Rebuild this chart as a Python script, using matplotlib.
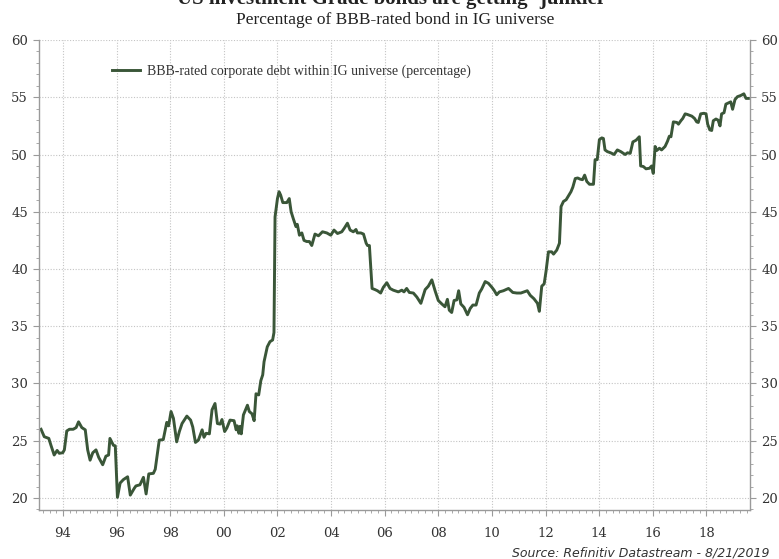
import numpy as np
import matplotlib
matplotlib.use('Agg')
import matplotlib.pyplot as plt
from matplotlib.ticker import FixedLocator, MultipleLocator

# decimal year and BBB share of IG universe (%)
years = [
    1993.18, 1993.30, 1993.47, 1993.55, 1993.67, 1993.78, 1993.86, 1993.99, 1994.05, 1994.14,
    1994.24, 1994.38, 1994.49, 1994.58, 1994.70, 1994.83, 1994.92, 1995.01, 1995.11, 1995.23,
    1995.33, 1995.48, 1995.60, 1995.70, 1995.75, 1995.88, 1995.95, 1996.03, 1996.13, 1996.25,
    1996.41, 1996.51, 1996.66, 1996.72, 1996.87, 1997.00, 1997.10, 1997.20, 1997.37, 1997.44,
    1997.59, 1997.74, 1997.87, 1997.94, 1998.03, 1998.12, 1998.24, 1998.34, 1998.44, 1998.62,
    1998.76, 1998.84, 1998.94, 1999.05, 1999.19, 1999.26, 1999.34, 1999.46, 1999.56, 1999.67,
    1999.76, 1999.86, 1999.93, 2000.03, 2000.11, 2000.23, 2000.38, 2000.46, 2000.50, 2000.56,
    2000.60, 2000.65, 2000.73, 2000.88, 2000.95, 2001.05, 2001.13, 2001.20, 2001.30, 2001.38,
    2001.45, 2001.50, 2001.62, 2001.72, 2001.82, 2001.87, 2001.91, 2002.00, 2002.06, 2002.12,
    2002.20, 2002.35, 2002.44, 2002.51, 2002.59, 2002.69, 2002.74, 2002.82, 2002.91, 2002.99,
    2003.09, 2003.19, 2003.28, 2003.40, 2003.53, 2003.68, 2003.84, 2003.99, 2004.11, 2004.24,
    2004.40, 2004.49, 2004.61, 2004.71, 2004.83, 2004.93, 2004.98, 2005.11, 2005.21, 2005.31,
    2005.36, 2005.43, 2005.53, 2005.64, 2005.73, 2005.85, 2005.95, 2006.08, 2006.20, 2006.32,
    2006.51, 2006.64, 2006.72, 2006.82, 2006.92, 2007.07, 2007.20, 2007.35, 2007.51, 2007.63,
    2007.76, 2007.88, 2008.00, 2008.13, 2008.25, 2008.34, 2008.41, 2008.50, 2008.59, 2008.69,
    2008.76, 2008.84, 2008.96, 2009.09, 2009.19, 2009.29, 2009.41, 2009.53, 2009.62, 2009.75,
    2009.87, 2010.00, 2010.08, 2010.18, 2010.28, 2010.43, 2010.62, 2010.78, 2010.93, 2011.08,
    2011.20, 2011.32, 2011.43, 2011.57, 2011.70, 2011.77, 2011.86, 2011.95, 2012.02, 2012.11,
    2012.23, 2012.30, 2012.42, 2012.52, 2012.58, 2012.67, 2012.77, 2012.86, 2012.95, 2013.02,
    2013.11, 2013.20, 2013.29, 2013.38, 2013.46, 2013.54, 2013.64, 2013.79, 2013.85, 2013.93,
    2014.01, 2014.10, 2014.16, 2014.22, 2014.31, 2014.43, 2014.56, 2014.68, 2014.81, 2014.97,
    2015.06, 2015.16, 2015.26, 2015.38, 2015.50, 2015.55, 2015.65, 2015.75, 2015.88, 2015.96,
    2016.02, 2016.09, 2016.15, 2016.25, 2016.33, 2016.46, 2016.55, 2016.62, 2016.68, 2016.77,
    2016.90, 2016.96, 2017.05, 2017.12, 2017.21, 2017.29, 2017.46, 2017.56, 2017.64, 2017.70,
    2017.79, 2017.91, 2017.99, 2018.05, 2018.13, 2018.20, 2018.26, 2018.36, 2018.44, 2018.51,
    2018.57, 2018.66, 2018.73, 2018.82, 2018.91, 2018.98, 2019.07, 2019.16, 2019.28, 2019.40,
    2019.48, 2019.57,
]
bbb_pct = [
    26.0, 25.35, 25.2, 24.6, 23.75, 24.15, 23.9, 23.95, 24.2, 25.85,
    26.0, 26.0, 26.15, 26.65, 26.15, 25.95, 24.2, 23.3, 23.95, 24.2,
    23.55, 22.9, 23.65, 23.75, 25.2, 24.6, 24.55, 20.05, 21.3, 21.6,
    21.85, 20.25, 20.85, 21.05, 21.15, 21.8, 20.35, 22.1, 22.15, 22.5,
    25.05, 25.1, 26.6, 26.3, 27.55, 26.95, 24.9, 25.8, 26.5, 27.15,
    26.8, 26.2, 24.85, 25.05, 25.95, 25.3, 25.65, 25.6, 27.7, 28.25,
    26.5, 26.45, 26.85, 25.8, 26.1, 26.8, 26.75, 25.95, 26.3, 25.65,
    26.25, 25.6, 27.25, 28.1, 27.55, 27.35, 26.75, 29.1, 29.0, 30.25,
    30.75, 31.9, 33.2, 33.65, 33.8, 34.45, 44.55, 46.15, 46.75, 46.45,
    45.8, 45.8, 46.15, 45.0, 44.4, 43.7, 43.9, 42.95, 43.15, 42.5,
    42.4, 42.4, 42.05, 43.05, 42.9, 43.25, 43.15, 42.95, 43.4, 43.1,
    43.25, 43.55, 44.0, 43.4, 43.25, 43.45, 43.15, 43.15, 43.05, 42.25,
    42.05, 42.05, 38.3, 38.2, 38.1, 37.9, 38.4, 38.8, 38.3, 38.15,
    38.0, 38.15, 38.0, 38.3, 37.95, 37.9, 37.55, 37.0, 38.2, 38.5,
    39.05, 38.1, 37.25, 36.95, 36.7, 37.35, 36.4, 36.2, 37.25, 37.3,
    38.1, 36.95, 36.65, 36.0, 36.55, 36.85, 36.85, 37.9, 38.25, 38.9,
    38.75, 38.4, 38.15, 37.75, 38.0, 38.1, 38.3, 37.95, 37.9, 37.9,
    38.0, 38.1, 37.7, 37.4, 37.0, 36.3, 38.5, 38.7, 39.8, 41.5,
    41.5, 41.3, 41.65, 42.25, 45.45, 45.9, 46.05, 46.4, 46.75, 47.15,
    47.9, 47.95, 47.85, 47.8, 48.2, 47.65, 47.4, 47.4, 49.55, 49.55,
    51.3, 51.45, 51.4, 50.4, 50.25, 50.15, 50.0, 50.4, 50.25, 50.0,
    50.15, 50.1, 51.1, 51.25, 51.55, 49.0, 48.95, 48.75, 48.8, 49.0,
    48.35, 50.7, 50.35, 50.55, 50.4, 50.7, 51.15, 51.6, 51.55, 52.85,
    52.8, 52.65, 52.95, 53.15, 53.55, 53.5, 53.35, 53.15, 52.85, 52.8,
    53.55, 53.6, 53.55, 52.65, 52.15, 52.1, 52.95, 53.1, 53.0, 52.5,
    53.55, 53.65, 54.4, 54.5, 54.6, 53.95, 54.8, 55.05, 55.15, 55.3,
    54.9, 54.9,
]
major_years = list(range(1994, 2019, 2))
year_labels = [f'{y % 100:02d}' for y in major_years]
y_ticks = [20, 25, 30, 35, 40, 45, 50, 55, 60]

line_color = '#3a5638'
text_color = '#333333'
spine_color = '#9a9a9a'

fig = plt.figure(figsize=(7.79, 5.59), dpi=100)
ax = fig.add_axes([0.0501, 0.0877, 0.9127, 0.8407])

ax.plot(years, bbb_pct, color=line_color, lw=2.1,
        label='BBB-rated corporate debt within IG universe (percentage)')

ax.set_xlim(1993.105, 2019.63)
ax.set_ylim(18.95, 60)
ax.xaxis.set_major_locator(FixedLocator(major_years))
ax.set_xticklabels(year_labels)
ax.xaxis.set_minor_locator(MultipleLocator(0.25))
ax.yaxis.set_major_locator(FixedLocator(y_ticks))
ax.yaxis.set_minor_locator(MultipleLocator(1))

ax.grid(True, which='major', linestyle=(0, (1, 1.5)), color='#c4c4c4', lw=0.8)
ax.set_axisbelow(True)

for s in ['left', 'right', 'bottom']:
    ax.spines[s].set_color(spine_color)
    ax.spines[s].set_linewidth(1.0)
ax.spines['top'].set_visible(False)

ax.tick_params(axis='y', which='both', left=True, right=True, labelleft=True,
               labelright=True, direction='out', color=spine_color)
ax.tick_params(axis='y', which='major', length=4, pad=4)
ax.tick_params(axis='y', which='minor', length=2)
ax.tick_params(axis='x', which='major', length=4, pad=8, color=spine_color)
ax.tick_params(axis='x', which='minor', length=2, color=spine_color)

# tick labels on both sides of the y axis
tick_labels = ax.get_xticklabels() + [t.label1 for t in ax.yaxis.get_major_ticks()] \
    + [t.label2 for t in ax.yaxis.get_major_ticks()]
for lab in tick_labels:
    lab.set_fontfamily('DejaVu Serif')
    lab.set_fontsize(9.5)
    lab.set_color(text_color)

leg = ax.legend(loc='upper left', bbox_to_anchor=(0.085, 0.975), frameon=False,
                handlelength=2.0, handletextpad=0.5,
                prop={'family': 'Liberation Serif', 'size': 10})
for t in leg.get_texts():
    t.set_color(text_color)

# main title is clipped by the top edge, as in the source image
fig.text(0.507, 1 - 4 / 559, "US investment Grade bonds are getting \u2018junkier\u2019",
         ha='center', va='baseline', fontsize=15, fontweight='bold',
         family='Liberation Serif', color='#222222')
fig.text(0.507, 1 - 20 / 559, 'Percentage of BBB-rated bond in IG universe',
         ha='center', va='center', fontsize=12.5, family='Liberation Serif',
         color='#222222')
fig.text(770 / 779, 1 - 553 / 559, 'Source: Refinitiv Datastream - 8/21/2019',
         ha='right', va='center', fontsize=9, style='italic',
         family='DejaVu Sans', color=text_color)

fig.savefig('out.png', dpi=100)
